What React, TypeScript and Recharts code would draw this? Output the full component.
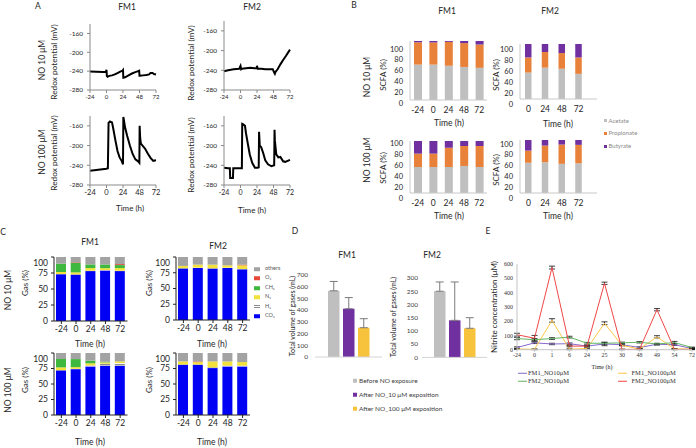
import React from "react";
import { BarChart, Bar, LineChart, Line, XAxis, YAxis, ErrorBar } from "recharts";

// A: redox potential (mV) vs time (h)
const redoxTicksX = [-24, 0, 24, 48, 72];
const redoxTicksY = [-280, -240, -200, -160];

const fm1No10Time = [-24, -15, -5, -1, 0, 0.5, 1.5, 4, 8, 12, 16, 20, 23.5, 24, 24.5, 27, 32, 37, 42, 46, 47.5, 48, 48.5, 53, 58, 62, 64, 67, 69, 72];
const fm1No10Redox = [-241, -241.5, -242, -242, -237, -250, -252, -250, -249, -247, -244, -241, -239, -238, -254, -253, -249, -245, -242, -240, -239, -250, -250, -249, -248, -247, -244, -244, -246, -247];

const fm1No100Time = [-24, -12, 0, 2, 3, 5, 8, 10, 13, 16, 19, 22, 24, 24.5, 25.5, 27, 30, 34, 38, 42, 46, 47.8, 48.2, 49, 50, 53, 56, 60, 64, 68, 72];
const fm1No100Redox = [-251, -249, -247, -246, -154, -151, -153, -167, -190, -211, -224, -231, -238, -142, -150, -163, -180, -200, -217, -228, -232, -235, -160, -185, -196, -201, -206, -216, -225, -231, -230];

const fm2No10Time = [-24, -18, -10, -2, 0, 1, 2, 8, 14, 20, 23.5, 24, 25, 30, 36, 42, 47, 48.5, 50, 51, 54, 58, 62, 66, 72];
const fm2No10Redox = [-242, -240, -238, -237, -231, -238, -237, -236, -235, -236, -236, -231, -237, -237, -238, -238, -238, -243, -247, -243, -238, -228, -219, -211, -198];

const fm2No100Time = [-24, -18, -15.5, -15, -11, -10.5, -5, 0, 2, 2.5, 4, 6.5, 8, 10.5, 13.5, 17, 21, 25, 26.5, 27, 28, 30, 33, 36, 40, 45, 49, 49.5, 50, 52, 55, 58, 62, 65, 72];
const fm2No100Redox = [-245, -246, -246, -266, -266, -246, -246, -246, -246, -156, -157, -160, -175, -195, -218, -235, -245, -245, -244, -172, -200, -203, -215, -230, -238, -242, -240, -168, -190, -218, -224, -223, -232, -233, -229];

// B: SCFA (%)
const scfaTimesFM1 = ["-24", "0", "24", "48", "72"];
const scfaTimesFM2 = ["0", "24", "48", "72"];
const acetateFM1No10 = [60, 60, 58, 56, 54.5];
const propionateFM1No10 = [37.8, 37.5, 40.5, 40.4, 39.5];
const butyrateFM1No10 = [2.2, 2.5, 1.5, 3.6, 6];
const acetateFM2No10 = [48, 57, 55, 45.7];
const propionateFM2No10 = [27.5, 28.4, 28.5, 29.8];
const butyrateFM2No10 = [24.5, 14.6, 16.5, 24.5];
const acetateFM1No100 = [50, 50, 50, 52, 50];
const propionateFM1No100 = [25.7, 25.7, 37, 38.4, 40.4];
const butyrateFM1No100 = [24.3, 24.3, 13, 9.6, 9.6];
const acetateFM2No100 = [57, 58, 55, 56];
const propionateFM2No100 = [23, 31.5, 36.4, 34.8];
const butyrateFM2No100 = [20, 10.5, 8.6, 9.2];
const scfaNames = ["Acetate", "Propionate", "Butyrate"];
const scfaColors = ["#bfbfbf", "#e8823a", "#7030a0"];

// C: gas composition (%)
const gasTimes = ["-24", "0", "24", "48", "72"];
const gasKeys = ["co2", "h2", "n2", "ch4", "o2", "others"];
const gasLegend = ["others", "O₂", "CH₄", "N₂", "H₂", "CO₂"];
const gasColors: Record<string, string> = {
  co2: "#0000f5",
  h2: "url(#h2Hatch)",
  n2: "#f2e03c",
  ch4: "#3fb83f",
  o2: "#e8483a",
  others: "#a3a3a3",
};

const co2FM1No10 = [73, 72.4, 78, 79, 78];
const h2FM1No10 = [0.5, 0.5, 0.5, 0.5, 0.5];
const n2FM1No10 = [3.1, 3.1, 4.2, 3.1, 4.2];
const ch4FM1No10 = [13, 14.6, 5.7, 5.7, 4.7];
const o2FM1No10 = [0, 1, 0, 0, 1.5];
const othersFM1No10 = [10.4, 8.4, 11.6, 11.7, 11.1];

const co2FM1No100 = [71.9, 74, 78.4, 79.5, 79.5];
const h2FM1No100 = [0.5, 0.5, 1.5, 3.2, 4.3];
const n2FM1No100 = [4.4, 2.7, 3.5, 2.2, 2.7];
const ch4FM1No100 = [13.5, 13, 4.3, 1, 0];
const o2FM1No100 = [0, 0, 0, 0, 0];
const othersFM1No100 = [9.7, 9.8, 12.3, 14.1, 13.5];

const co2FM2No10 = [81.6, 82.6, 81.6, 82.6, 80.5];
const h2FM2No10 = [1, 0.5, 0.5, 0.5, 0.5];
const n2FM2No10 = [3.2, 4.8, 5.8, 3.7, 5.8];
const ch4FM2No10 = [0, 0, 0, 0, 0];
const o2FM2No10 = [0, 0, 0, 0, 1];
const othersFM2No10 = [14.2, 12.1, 12.1, 13.2, 12.2];

const co2FM2No100 = [81, 81, 75.7, 78.4, 78.4];
const h2FM2No100 = [0.5, 0.5, 1, 1, 1];
const n2FM2No100 = [4.9, 3.8, 9.7, 7, 6];
const ch4FM2No100 = [0, 0, 0, 0, 0];
const o2FM2No100 = [0, 1, 0, 0, 0];
const othersFM2No100 = [13.6, 13.7, 13.6, 13.6, 14.6];

// D: total volume of gases (mL)
const volumeNames = ["Before NO exposure", "After NO_10 μM exposition", "After NO_100 μM exposition"];
const volumeColors = ["#bfbfbf", "#7030a0", "#f7c23c"];
const volumeFM1 = [565, 412, 250];
const volumeErrFM1 = [80, 95, 77];
const volumeFM2 = [250, 140, 110];
const volumeErrFM2 = [35, 145, 40];

// E: nitrite concentration (μM)
const nitriteTimes = ["-24", "0", "1", "6", "24", "25", "30", "48", "49", "54", "72"];
const nitriteFM1No10 = [15, 48, 40, 42, 25, 40, 35, 15, 38, 35, 8];
const nitriteFM1No100 = [5, 3, 205, 3, 8, 185, 30, 5, 90, 5, 5];
const nitriteFM2No10 = [78, 70, 78, 88, 45, 45, 48, 52, 40, 50, 15];
const nitriteFM2No100 = [105, 80, 575, 25, 25, 465, 2, 2, 280, 2, 2];
const nitriteErrFM1No10 = [5, 5, 5, 5, 5, 12, 5, 5, 5, 5, 3];
const nitriteErrFM1No100 = [3, 3, 12, 3, 3, 10, 3, 3, 8, 3, 3];
const nitriteErrFM2No10 = [8, 8, 6, 6, 6, 6, 5, 5, 5, 8, 3];
const nitriteErrFM2No100 = [10, 20, 10, 5, 5, 8, 2, 2, 8, 2, 2];
const nitriteNames = ["FM1_NO10μM", "FM1_NO100μM", "FM2_NO10μM", "FM2_NO100μM"];
const nitriteColors = ["#8468cc", "#ffc845", "#62b562", "#f04646"];

const SANS = "Lato, 'Open Sans', sans-serif";
const SERIF = "'Liberation Serif', 'DejaVu Serif', serif";
const INK = "#262626";

// place a chart so that its plot area lands on (px, py, pw, ph)
function frame(px: number, py: number, pw: number, ph: number, yw: number, xh: number, mt = 4, mr = 6) {
  return {
    style: { position: "absolute", left: px - yw, top: py - mt } as React.CSSProperties,
    width: yw + pw + mr,
    height: mt + ph + xh,
    margin: { top: mt, right: mr, bottom: 0, left: 0 },
  };
}

function Txt({ x, y, size = 8.5, rot = false, color = INK, family = SANS, children }: any) {
  return (
    <div
      style={{
        position: "absolute",
        left: x,
        top: y,
        transform: `translate(-50%, -50%)${rot ? " rotate(-90deg)" : ""}`,
        fontSize: size,
        lineHeight: 1,
        color,
        fontFamily: family,
        whiteSpace: "nowrap",
      }}
    >
      {children}
    </div>
  );
}

function shiftedTick(fontSize: number, shift: (v: number) => number) {
  return (props: any) => {
    const { x, y, payload } = props;
    return (
      <text x={x} y={y + shift(payload.value)} dy="0.35em" textAnchor="end" fontSize={fontSize} fill={INK}>
        {payload.value}
      </text>
    );
  };
}

function RedoxChart({ p, time, redox, xFont }: any) {
  const f = frame(p[0], p[1], p[2], p[3], 34, 16, 4, 8);
  const data = time.map((t: number, i: number) => ({ t, v: redox[i] }));
  return (
    <div style={f.style}>
      <LineChart width={f.width} height={f.height} margin={f.margin} data={data}>
        <XAxis
          type="number"
          dataKey="t"
          domain={[-24, 72]}
          ticks={redoxTicksX}
          interval={0}
          height={16}
          stroke="#8a8a8a"
          tickSize={3}
          tickMargin={2}
          tick={{ fontSize: xFont, fill: INK }}
        />
        <YAxis
          type="number"
          domain={[-280, -140]}
          ticks={redoxTicksY}
          interval={0}
          width={34}
          stroke="#8a8a8a"
          tickSize={3}
          tickMargin={4}
          tick={{ fontSize: 6.5, fill: INK }}
          allowDataOverflow
        />
        <Line type="linear" dataKey="v" stroke="#000" strokeWidth={2} dot={false} isAnimationActive={false} />
      </LineChart>
    </div>
  );
}

function ScfaChart({ p, times, ac, pr, bu, barSize, padRight, s100, s0 }: any) {
  const f = frame(p[0], p[1], p[2], p[3], 26, 20, 3, 4);
  const data = times.map((t: string, i: number) => ({ t, ac: ac[i], pr: pr[i], bu: bu[i] }));
  const keys = ["ac", "pr", "bu"];
  return (
    <div style={f.style}>
      <BarChart width={f.width} height={f.height} margin={f.margin} data={data}>
        <XAxis
          dataKey="t"
          height={20}
          interval={0}
          stroke="#c8c8c8"
          tickLine={false}
          tickSize={0}
          tickMargin={7}
          padding={{ left: 0, right: padRight }}
          tick={{ fontSize: 8.5, fill: INK }}
        />
        <YAxis
          type="number"
          domain={[0, 100]}
          ticks={[0, 20, 40, 60, 80, 100]}
          interval={0}
          width={26}
          stroke="#c8c8c8"
          tickLine={false}
          tickSize={0}
          tickMargin={7}
          tick={shiftedTick(7.5, (v) => s0 + ((s100 - s0) * v) / 100)}
        />
        {keys.map((k, i) => (
          <Bar key={k} dataKey={k} stackId="s" fill={scfaColors[i]} barSize={barSize} isAnimationActive={false} />
        ))}
      </BarChart>
    </div>
  );
}

function GasChart({ p, series }: any) {
  const f = frame(p[0], p[1], p[2], p[3], 30, 18, 4, 6);
  const data = gasTimes.map((t, i) => {
    const row: any = { t };
    gasKeys.forEach((k, j) => (row[k] = series[j][i]));
    return row;
  });
  return (
    <div style={f.style}>
      <BarChart width={f.width} height={f.height} margin={f.margin} data={data}>
        <defs>
          <pattern id="h2Hatch" width="3" height="3" patternUnits="userSpaceOnUse">
            <rect width="3" height="3" fill="#ffffff" />
            <rect width="3" height="1.5" fill="#8c8c8c" />
          </pattern>
        </defs>
        <XAxis
          dataKey="t"
          height={18}
          interval={0}
          stroke="#222"
          tickSize={3}
          tickMargin={2}
          tick={{ fontSize: 8.5, fill: INK }}
        />
        <YAxis
          type="number"
          domain={[0, 100]}
          ticks={[0, 25, 50, 75, 100]}
          interval={0}
          width={30}
          stroke="#222"
          tickSize={3}
          tickMargin={3}
          tick={shiftedTick(8.5, (v) => (v === 100 ? 6 : 0))}
        />
        {gasKeys.map((k) => (
          <Bar key={k} dataKey={k} stackId="g" fill={gasColors[k]} barSize={10} isAnimationActive={false} />
        ))}
      </BarChart>
    </div>
  );
}

function VolumeChart({ p, values, errs, max, step, margin }: any) {
  const f = frame(p[0], p[1], p[2], p[3], 28, 4, 4, 2);
  const row: any = { name: "" };
  values.forEach((v: number, i: number) => {
    row["v" + i] = v;
    row["e" + i] = [0, errs[i]];
  });
  const ticks: number[] = [];
  for (let v = 0; v <= max; v += step) ticks.push(v);
  return (
    <div style={f.style}>
      <BarChart width={f.width} height={f.height} margin={f.margin} data={[row]} barGap={3.5}>
        <XAxis dataKey="name" height={4} tick={false} tickLine={false} stroke="#d4d4d4" />
        <YAxis
          type="number"
          domain={[0, max]}
          ticks={ticks}
          interval={0}
          width={28}
          axisLine={false}
          tickLine={false}
          tickSize={0}
          tickMargin={margin}
          tick={{ fontSize: 6.5, fill: "#404040" }}
        />
        {values.map((_: number, i: number) => (
          <Bar key={i} dataKey={"v" + i} fill={volumeColors[i]} barSize={11.5} isAnimationActive={false}>
            <ErrorBar dataKey={"e" + i} width={4} stroke="#7a7a7a" strokeWidth={1} direction="y" />
          </Bar>
        ))}
      </BarChart>
    </div>
  );
}

function NitriteChart() {
  const f = frame(516.6, 264.3, 175, 85.7, 26, 12, 4, 4);
  const vals = [nitriteFM1No10, nitriteFM1No100, nitriteFM2No10, nitriteFM2No100];
  const errs = [nitriteErrFM1No10, nitriteErrFM1No100, nitriteErrFM2No10, nitriteErrFM2No100];
  const data = nitriteTimes.map((t, i) => {
    const row: any = { t };
    vals.forEach((s, j) => {
      row["n" + j] = s[i];
      row["e" + j] = errs[j][i];
    });
    return row;
  });
  return (
    <div style={{ ...f.style, fontFamily: SERIF }}>
      <LineChart width={f.width} height={f.height} margin={f.margin} data={data}>
        <XAxis
          dataKey="t"
          height={12}
          interval={0}
          stroke="#c4c4c4"
          tickSize={2}
          tickMargin={1}
          tick={{ fontSize: 6, fill: "#333" }}
        />
        <YAxis
          type="number"
          domain={[0, 600]}
          ticks={[0, 100, 200, 300, 400, 500, 600]}
          interval={0}
          width={26}
          stroke="#c4c4c4"
          tickLine={false}
          tickSize={0}
          tickMargin={4}
          tick={{ fontSize: 6, fill: "#333" }}
        />
        {vals.map((_, j) => (
          <Line
            key={j}
            type="linear"
            dataKey={"n" + j}
            stroke={nitriteColors[j]}
            strokeWidth={1}
            dot={false}
            isAnimationActive={false}
          >
            <ErrorBar dataKey={"e" + j} width={3} stroke="#111" strokeWidth={0.8} direction="y" />
          </Line>
        ))}
      </LineChart>
    </div>
  );
}

function SwatchLegend({ x, y0, dy, names, colors, size, w, h, gap, color, family = SANS }: any) {
  return (
    <>
      {names.map((n: string, i: number) => (
        <div
          key={n}
          style={{
            position: "absolute",
            left: x,
            top: y0 + i * dy,
            transform: "translateY(-50%)",
            display: "flex",
            alignItems: "center",
            fontSize: size,
            lineHeight: 1,
            color,
            fontFamily: family,
            whiteSpace: "nowrap",
          }}
        >
          <span
            style={{
              display: "inline-block",
              width: w,
              height: h,
              background: colors[i],
              marginRight: gap,
            }}
          />
          {n}
        </div>
      ))}
    </>
  );
}

export default function App() {
  const gasLegendColors = ["#a3a3a3", "#e8483a", "#3fb83f", "#f2e03c", "repeating-linear-gradient(0deg, #8c8c8c 0 1px, #fff 1px 2px)", "#0000f5"];
  return (
    <div
      style={{
        position: "absolute",
        left: 0,
        top: 0,
        width: 696,
        height: 448,
        background: "#fff",
        overflow: "hidden",
        fontFamily: SANS,
      }}
    >
      {/* panel letters */}
      <Txt x={38} y={6}>A</Txt>
      <Txt x={354} y={5}>B</Txt>
      <Txt x={3} y={232}>C</Txt>
      <Txt x={295} y={231}>D</Txt>
      <Txt x={488} y={231}>E</Txt>

      {/* A */}
      <Txt x={127} y={7}>FM1</Txt>
      <Txt x={252} y={7}>FM2</Txt>
      <Txt x={42} y={60} rot>NO 10 μM</Txt>
      <Txt x={54} y={62} rot size={8.3}>Redox potential (mV)</Txt>
      <Txt x={191} y={63} rot size={8.3}>Redox potential (mV)</Txt>
      <Txt x={42} y={152} rot>NO 100 μM</Txt>
      <Txt x={54} y={153} rot size={8.3}>Redox potential (mV)</Txt>
      <Txt x={191} y={155} rot size={8.3}>Redox potential (mV)</Txt>
      <Txt x={130} y={208} size={8}>Time (h)</Txt>
      <Txt x={252} y={210} size={8}>Time (h)</Txt>
      <RedoxChart p={[90, 24, 66, 66]} time={fm1No10Time} redox={fm1No10Redox} xFont={6} />
      <RedoxChart p={[224, 21, 66, 69]} time={fm2No10Time} redox={fm2No10Redox} xFont={6} />
      <RedoxChart p={[90, 116, 66, 69]} time={fm1No100Time} redox={fm1No100Redox} xFont={7.5} />
      <RedoxChart p={[224, 116, 66, 69]} time={fm2No100Time} redox={fm2No100Redox} xFont={7} />

      {/* B */}
      <Txt x={447} y={11}>FM1</Txt>
      <Txt x={550} y={11}>FM2</Txt>
      <Txt x={367} y={77} rot>NO 10 μM</Txt>
      <Txt x={383} y={75} rot size={8}>SCFA (%)</Txt>
      <Txt x={496} y={75} rot size={8}>SCFA (%)</Txt>
      <Txt x={367} y={160} rot>NO 100 μM</Txt>
      <Txt x={383} y={168} rot size={8}>SCFA (%)</Txt>
      <Txt x={496} y={170} rot size={8}>SCFA (%)</Txt>
      <Txt x={449} y={123}>Time (h)</Txt>
      <Txt x={558} y={124}>Time (h)</Txt>
      <Txt x={449} y={216}>Time (h)</Txt>
      <Txt x={558} y={216}>Time (h)</Txt>
      <ScfaChart p={[410, 41, 77, 59]} times={scfaTimesFM1} ac={acetateFM1No10} pr={propionateFM1No10} bu={butyrateFM1No10} barSize={8} padRight={0} s100={8} s0={3} />
      <ScfaChart p={[520, 44, 77, 55]} times={scfaTimesFM2} ac={acetateFM2No10} pr={propionateFM2No10} bu={butyrateFM2No10} barSize={6.5} padRight={10} s100={5} s0={5} />
      <ScfaChart p={[410, 141, 77, 52]} times={scfaTimesFM1} ac={acetateFM1No100} pr={propionateFM1No100} bu={butyrateFM1No100} barSize={8} padRight={0} s100={2.5} s0={5} />
      <ScfaChart p={[520, 139.5, 77, 53]} times={scfaTimesFM2} ac={acetateFM2No100} pr={propionateFM2No100} bu={butyrateFM2No100} barSize={6.5} padRight={10} s100={4} s0={5} />
      <SwatchLegend x={604} y0={120.5} dy={12.8} names={scfaNames} colors={scfaColors} size={6} w={3} h={3} gap={1.5} color="#8a8a8a" />

      {/* C */}
      <Txt x={90} y={242}>FM1</Txt>
      <Txt x={218} y={246}>FM2</Txt>
      <Txt x={8} y={290} rot>NO 10 μM</Txt>
      <Txt x={8} y={390} rot>NO 100 μM</Txt>
      <Txt x={25} y={283} rot size={8}>Gas (%)</Txt>
      <Txt x={149} y={283} rot size={8}>Gas (%)</Txt>
      <Txt x={25} y={380} rot size={8}>Gas (%)</Txt>
      <Txt x={149} y={380} rot size={8}>Gas (%)</Txt>
      <Txt x={90} y={344}>Time (h)</Txt>
      <Txt x={212} y={344}>Time (h)</Txt>
      <Txt x={90} y={441.5}>Time (h)</Txt>
      <Txt x={212} y={441.5}>Time (h)</Txt>
      <GasChart p={[54, 257, 73.5, 64]} series={[co2FM1No10, h2FM1No10, n2FM1No10, ch4FM1No10, o2FM1No10, othersFM1No10]} />
      <GasChart p={[176, 257, 74, 63]} series={[co2FM2No10, h2FM2No10, n2FM2No10, ch4FM2No10, o2FM2No10, othersFM2No10]} />
      <GasChart p={[54, 353, 73.5, 62]} series={[co2FM1No100, h2FM1No100, n2FM1No100, ch4FM1No100, o2FM1No100, othersFM1No100]} />
      <GasChart p={[176, 353, 74, 62]} series={[co2FM2No100, h2FM2No100, n2FM2No100, ch4FM2No100, o2FM2No100, othersFM2No100]} />
      <SwatchLegend x={254} y0={269} dy={9.4} names={gasLegend} colors={gasLegendColors} size={5.5} w={6} h={4} gap={5} color="#555" />

      {/* D */}
      <Txt x={347} y={255}>FM1</Txt>
      <Txt x={432} y={255}>FM2</Txt>
      <Txt x={291.5} y={316} rot size={7}>Total volume of gases (mL)</Txt>
      <Txt x={393} y={317} rot size={7}>Total volume of gases (mL)</Txt>
      <VolumeChart p={[315, 275.3, 67, 82]} values={volumeFM1} errs={volumeErrFM1} max={700} step={100} margin={7} />
      <VolumeChart p={[421.7, 278.3, 65, 79.4]} values={volumeFM2} errs={volumeErrFM2} max={300} step={50} margin={4} />
      <SwatchLegend x={353} y0={380.7} dy={14.2} names={volumeNames} colors={volumeColors} size={6.5} w={4} h={4} gap={2} color="#404040" />

      {/* E */}
      <Txt x={494} y={307} rot size={8}>Nitrite concentration (μM)</Txt>
      <Txt x={602} y={366.7} size={6} family={SERIF}>Time (h)</Txt>
      <NitriteChart />
      {nitriteNames.map((n, i) => (
        <div
          key={n}
          style={{
            position: "absolute",
            left: i % 2 === 0 ? 518 : 618,
            top: i < 2 ? 373.3 : 381,
            transform: "translateY(-50%)",
            display: "flex",
            alignItems: "center",
            fontSize: 6.5,
            lineHeight: 1,
            fontFamily: SERIF,
            color: "#333",
            whiteSpace: "nowrap",
          }}
        >
          <span style={{ display: "inline-block", width: 8.5, height: 1, background: nitriteColors[i], marginRight: i % 2 === 0 ? 1.5 : 5 }} />
          {n}
        </div>
      ))}
    </div>
  );
}
